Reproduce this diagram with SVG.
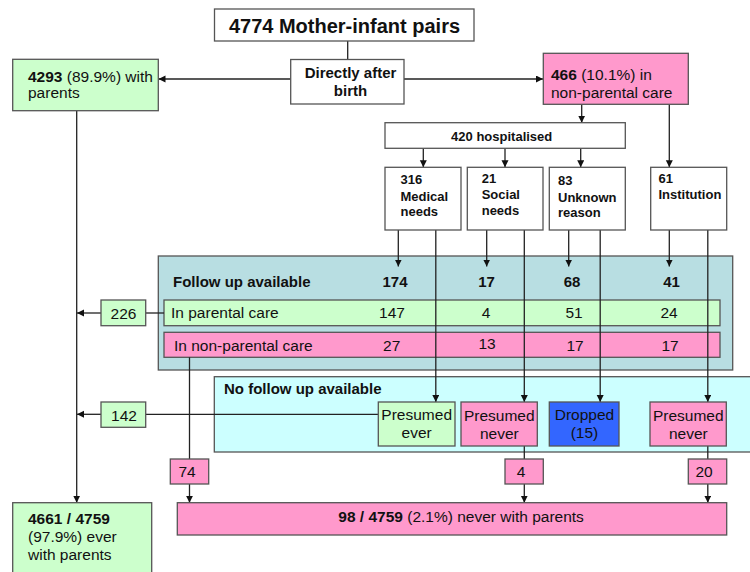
<svg xmlns="http://www.w3.org/2000/svg" width="750" height="572" viewBox="0 0 750 572">
<style>
text{font-family:"Liberation Sans",Arial,sans-serif;fill:#111}
.box{stroke:#555;stroke-width:1.3}
.w{fill:#fff}.g{fill:#ccffcc}.p{fill:#ff99cc}.b{fill:#3366ff}
.t20{font-size:20px;font-weight:bold}
.b15{font-size:15px;font-weight:bold}
.b13{font-size:13px;font-weight:bold}
.r15{font-size:15.5px}
.c{text-anchor:middle}
.ln{stroke:#222;stroke-width:1.3;fill:none}
.ar{marker-end:url(#ah)}
</style>
<defs>
<marker id="ah" markerUnits="userSpaceOnUse" markerWidth="8" markerHeight="8" refX="7" refY="3.5" orient="auto">
<path d="M0,0 L7,3.5 L0,7 z" fill="#111"/>
</marker>
</defs>

<!-- containers -->
<g id="followup">
<rect x="158.3" y="256" width="574.4" height="114" fill="#b8dee2" class="box"/>
<text x="173" y="287" class="b15">Follow up available</text>
<text x="395" y="287" class="b15 c">174</text>
<text x="486.5" y="287" class="b15 c">17</text>
<text x="572" y="287" class="b15 c">68</text>
<text x="671.5" y="287" class="b15 c">41</text>
</g>
<g id="row-parental">
<rect x="164" y="300" width="556" height="25.7" class="box g"/>
<text x="171" y="318" class="r15">In parental care</text>
<text x="392" y="318" class="r15 c">147</text>
<text x="486" y="318" class="r15 c">4</text>
<text x="574" y="318" class="r15 c">51</text>
<text x="669" y="318" class="r15 c">24</text>
</g>
<g id="row-nonparental">
<rect x="164" y="332.3" width="556" height="25" class="box p"/>
<text x="174" y="350.5" class="r15">In non-parental care</text>
<text x="391.7" y="351" class="r15 c">27</text>
<text x="487" y="348.5" class="r15 c">13</text>
<text x="575" y="351" class="r15 c">17</text>
<text x="670" y="351" class="r15 c">17</text>
</g>
<g id="nofollowup">
<rect x="214.3" y="376.7" width="540" height="75.3" fill="#ccffff" class="box"/>
<text x="224" y="394" class="b15">No follow up available</text>
</g>

<!-- connectors -->
<g id="connectors">
<line x1="347.7" y1="41" x2="347.7" y2="59.5" class="ln"/>
<line x1="290.7" y1="79" x2="158.5" y2="79" class="ln ar"/>
<line x1="404" y1="79" x2="543" y2="79" class="ln ar"/>
<line x1="581.7" y1="104.3" x2="581.7" y2="122.7" class="ln ar"/>
<line x1="669.3" y1="104.3" x2="669.3" y2="167.3" class="ln ar"/>
<line x1="423.3" y1="148.3" x2="423.3" y2="167.3" class="ln ar"/>
<line x1="505" y1="148.3" x2="505" y2="167.3" class="ln ar"/>
<line x1="580.7" y1="148.3" x2="580.7" y2="167.3" class="ln ar"/>
<line x1="398.3" y1="230" x2="398.3" y2="266.5" class="ln ar"/>
<line x1="486.7" y1="230" x2="486.7" y2="266.5" class="ln ar"/>
<line x1="568.7" y1="230" x2="568.7" y2="266.5" class="ln ar"/>
<line x1="669.3" y1="230" x2="669.3" y2="266.5" class="ln ar"/>
<line x1="435.8" y1="230" x2="435.8" y2="402" class="ln ar"/>
<line x1="524.3" y1="230" x2="524.3" y2="402" class="ln ar"/>
<line x1="600.2" y1="230" x2="600.2" y2="402" class="ln ar"/>
<line x1="707.8" y1="230" x2="707.8" y2="402" class="ln ar"/>
<line x1="164" y1="313" x2="145.7" y2="313" class="ln"/>
<line x1="101" y1="313" x2="77" y2="313" class="ln ar"/>
<line x1="378.3" y1="414.3" x2="145.7" y2="414.3" class="ln"/>
<line x1="101" y1="414.3" x2="77" y2="414.3" class="ln ar"/>
<line x1="76.7" y1="110.7" x2="76.7" y2="502.7" class="ln ar"/>
<line x1="189.5" y1="357.3" x2="189.5" y2="459" class="ln"/>
<line x1="189.5" y1="484" x2="189.5" y2="502.7" class="ln ar"/>
<line x1="524.3" y1="446" x2="524.3" y2="459" class="ln"/>
<line x1="524.3" y1="484" x2="524.3" y2="502.7" class="ln ar"/>
<line x1="707.8" y1="446" x2="707.8" y2="459" class="ln"/>
<line x1="707.8" y1="484" x2="707.8" y2="502.7" class="ln ar"/>
</g>

<!-- nodes -->
<g id="total">
<rect x="214.5" y="9" width="259.5" height="32" class="box w"/>
<text x="344.5" y="33" class="t20 c">4774 Mother-infant pairs</text>
</g>
<g id="after-birth">
<rect x="290.7" y="59.5" width="113.3" height="44.5" class="box w"/>
<text x="350.5" y="78" class="b15 c">Directly after</text>
<text x="350.5" y="96" class="b15 c">birth</text>
</g>
<g id="with-parents">
<rect x="12.7" y="59.3" width="145.6" height="51.4" class="box g"/>
<text x="28" y="81.5" class="r15"><tspan font-weight="bold">4293</tspan> (89.9%) with</text>
<text x="28" y="98" class="r15">parents</text>
</g>
<g id="non-parental">
<rect x="543.3" y="53.3" width="145" height="51" class="box p"/>
<text x="551" y="79.5" class="r15"><tspan font-weight="bold">466</tspan> (10.1%) in</text>
<text x="551" y="97.5" class="r15">non-parental care</text>
</g>
<g id="hospitalised">
<rect x="385" y="122.7" width="240.3" height="25.6" class="box w"/>
<text x="501.7" y="140.5" class="b13 c">420 hospitalised</text>
</g>
<g id="medical">
<rect x="385" y="167.3" width="76" height="62.7" class="box w"/>
<text x="400.5" y="184" class="b13">316</text>
<text x="400.5" y="200.5" class="b13">Medical</text>
<text x="400.5" y="216" class="b13">needs</text>
</g>
<g id="social">
<rect x="467.3" y="167.3" width="75.7" height="62.7" class="box w"/>
<text x="481.7" y="182.7" class="b13">21</text>
<text x="481.7" y="199" class="b13">Social</text>
<text x="481.7" y="214.5" class="b13">needs</text>
</g>
<g id="unknown">
<rect x="549.3" y="167.3" width="76" height="62.7" class="box w"/>
<text x="558" y="185" class="b13">83</text>
<text x="558" y="201.5" class="b13">Unknown</text>
<text x="558" y="217.3" class="b13">reason</text>
</g>
<g id="institution">
<rect x="650.7" y="167.3" width="76" height="62.7" class="box w"/>
<text x="658.5" y="182.7" class="b13">61</text>
<text x="658.5" y="199" class="b13">Institution</text>
</g>
<g id="n226">
<rect x="101" y="300" width="44.7" height="25.7" class="box g"/>
<text x="123.5" y="319" class="r15 c">226</text>
</g>
<g id="n142">
<rect x="101" y="402" width="44.7" height="25.3" class="box g"/>
<text x="124" y="420.7" class="r15 c">142</text>
</g>
<g id="presumed-ever">
<rect x="378.3" y="402" width="76.7" height="44" class="box g"/>
<text x="416.7" y="419.5" class="r15 c">Presumed</text>
<text x="416.7" y="438" class="r15 c">ever</text>
</g>
<g id="presumed-never-1">
<rect x="461" y="402" width="76.3" height="44" class="box p"/>
<text x="499.3" y="420.5" class="r15 c">Presumed</text>
<text x="499.3" y="439" class="r15 c">never</text>
</g>
<g id="dropped">
<rect x="549.3" y="402" width="69.7" height="44" class="box b"/>
<text x="584.5" y="419.5" class="r15 c">Dropped</text>
<text x="584.5" y="438" class="r15 c">(15)</text>
</g>
<g id="presumed-never-2">
<rect x="650" y="402" width="76.3" height="44" class="box p"/>
<text x="688.3" y="420.5" class="r15 c">Presumed</text>
<text x="688.3" y="439" class="r15 c">never</text>
</g>
<g id="n74">
<rect x="170.3" y="459" width="38.4" height="25" class="box p"/>
<text x="187" y="477.3" class="r15 c">74</text>
</g>
<g id="n4">
<rect x="505" y="459" width="38.3" height="25" class="box p"/>
<text x="521" y="477.3" class="r15 c">4</text>
</g>
<g id="n20">
<rect x="688.3" y="459" width="38.4" height="25" class="box p"/>
<text x="704" y="477.3" class="r15 c">20</text>
</g>
<g id="never-total">
<rect x="177.3" y="502.7" width="549.4" height="32.3" class="box p"/>
<text x="338.3" y="521.7" class="r15"><tspan font-weight="bold">98 / 4759</tspan> (2.1%) never with parents</text>
</g>
<g id="ever-total">
<rect x="12.7" y="502.7" width="139" height="75" class="box g"/>
<text x="28" y="524" class="r15" font-weight="bold">4661 / 4759</text>
<text x="28" y="542.3" class="r15">(97.9%) ever</text>
<text x="28" y="560" class="r15">with parents</text>
</g>
</svg>
